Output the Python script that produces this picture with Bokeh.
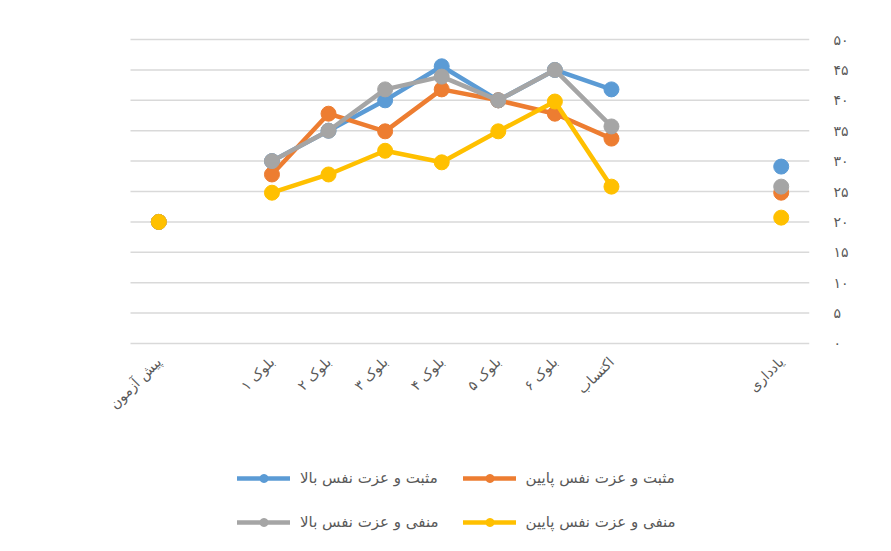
import math
from bokeh.plotting import figure
from bokeh.models import Range1d, FixedTicker, Legend, LegendItem
from bokeh.embed import file_html
from bokeh.resources import INLINE

nan = float("nan")

categories = ["پیش آزمون", "", "بلوک ۱", "بلوک ۲", "بلوک ۳", "بلوک ۴",
              "بلوک ۵", "بلوک ۶", "اکتساب", "", "", "یادداری"]

pos_high = [20, nan, 30, 35, 40, 45.6, 40, 45, 41.8, nan, nan, 29.1]
pos_low = [20, nan, 27.8, 37.8, 34.9, 41.8, 40, 37.8, 33.7, nan, nan, 24.8]
neg_high = [20, nan, 30, 35, 41.8, 43.9, 40, 45, 35.7, nan, nan, 25.8]
neg_low = [20, nan, 24.8, 27.8, 31.7, 29.8, 34.9, 39.8, 25.8, nan, nan, 20.7]

series_names = ["مثبت و عزت نفس بالا", "مثبت و عزت نفس پایین",
                "منفی و عزت نفس بالا", "منفی و عزت نفس پایین"]
series_values = [pos_high, pos_low, neg_high, neg_low]
colors = ["#5B9BD5", "#ED7D31", "#A5A5A5", "#FFC000"]

y_ticks = [0, 5, 10, 15, 20, 25, 30, 35, 40, 45, 50]
y_tick_labels = ["۰", "۵", "۱۰", "۱۵", "۲۰", "۲۵", "۳۰", "۳۵", "۴۰", "۴۵", "۵۰"]

FONT = "DejaVu Sans"
TXT = "#595959"

n = len(categories)
x = list(range(n))

# layout: the frame runs from the top margin to the bottom of the page and
# extends left of the plotting area, so that rotated axis labels and the
# legend (drawn inside the frame, under the axis labels) are not clipped
PLOT_W = 679            # width of the category area
EXTRA_LEFT = 70         # extra frame room on the left for the first label
FRAME_H = 514
px_per_cat = PLOT_W / n
x_start = -0.5 - EXTRA_LEFT / px_per_cat
PX_PER_UNIT = 310 / 51.0
y_top = 50.5
y_bottom = y_top - FRAME_H / PX_PER_UNIT

p = figure(width=890, height=550, output_backend="svg", toolbar_location=None,
           x_range=Range1d(x_start, n - 0.5), y_range=Range1d(y_bottom, y_top),
           y_axis_location="right")
p.frame_width = PLOT_W + EXTRA_LEFT
p.frame_height = FRAME_H
p.min_border_left = 130 - EXTRA_LEFT
p.min_border_top = 36
p.min_border_right = 81
p.min_border_bottom = 0
p.outline_line_color = None
p.background_fill_color = "white"

# axes
p.yaxis.ticker = FixedTicker(ticks=y_ticks)
p.yaxis.major_label_overrides = {t: l for t, l in zip(y_ticks, y_tick_labels)}
p.yaxis.axis_line_color = None
p.yaxis.major_tick_line_color = None
p.yaxis.minor_tick_line_color = None
p.yaxis.major_label_standoff = 18
p.yaxis.major_label_text_font = FONT
p.yaxis.major_label_text_font_size = "14px"
p.yaxis.major_label_text_color = TXT

lab_ticks = [i for i, c in enumerate(categories) if c]
p.xaxis.fixed_location = 0
p.xaxis.ticker = FixedTicker(ticks=lab_ticks)
p.xaxis.major_label_overrides = {i: categories[i] for i in lab_ticks}
p.xaxis.major_label_orientation = math.pi / 4
p.xaxis.axis_line_color = None
p.xaxis.major_tick_line_color = None
p.xaxis.minor_tick_line_color = None
p.xaxis.major_label_standoff = 10
p.xaxis.major_label_text_font = FONT
p.xaxis.major_label_text_font_size = "14px"
p.xaxis.major_label_text_color = TXT

# horizontal gridlines, limited to the category area
p.xgrid.grid_line_color = None
p.ygrid.grid_line_color = None
p.segment(x0=[-0.5] * len(y_ticks), x1=[n - 0.5] * len(y_ticks), y0=y_ticks, y1=y_ticks,
          line_color="#D9D9D9", line_width=1.5)

renderers = []
for name, vals, col in zip(series_names, series_values, colors):
    lr = p.line(x, vals, line_color=col, line_width=4.5, line_join="round", line_cap="round")
    sr = p.scatter(x, vals, size=15, fill_color=col, line_color=col)
    renderers.append((name, [lr, sr]))

# column-major order for a 2x2 vertical legend: col 1 = items 0, 2 ; col 2 = items 1, 3
order = [0, 2, 1, 3]
items = [LegendItem(label=renderers[i][0], renderers=renderers[i][1]) for i in order]

legend = Legend(items=items, location=(107 + EXTRA_LEFT, 18), orientation="vertical", nrows=2)
legend.glyph_width = 53
legend.glyph_height = 20
legend.label_height = 20
legend.label_standoff = 10
legend.spacing = 24
legend.padding = 0
legend.margin = 0
legend.border_line_color = None
legend.background_fill_alpha = 0
legend.label_text_font = FONT
legend.label_text_font_size = "15px"
legend.label_text_color = TXT
p.add_layout(legend, "center")

open("out.html", "w").write(file_html(p, INLINE))
